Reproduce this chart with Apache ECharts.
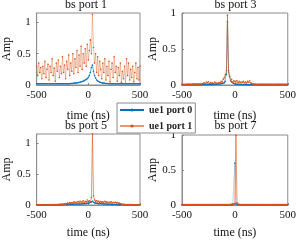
<!DOCTYPE html>
<html><head><meta charset="utf-8">
<script src="https://cdn.jsdelivr.net/npm/echarts@6/dist/echarts.min.js"></script>
<style>html,body{margin:0;padding:0;background:#fff}#c{width:299px;height:240px}</style>
</head><body><div id="c"></div>
<script>
const timeNs = [-500,-490,-480,-470,-460,-450,-440,-430,-420,-410,-400,-390,-380,-370,-360,-350,-340,-330,-320,-310,-300,-290,-280,-270,-260,-250,-240,-230,-220,-210,-200,-190,-180,-170,-160,-150,-140,-130,-120,-110,-100,-90,-80,-70,-60,-50,-40,-30,-20,-10,0,10,20,30,40,50,60,70,80,90,100,110,120,130,140,150,160,170,180,190,200,210,220,230,240,250,260,270,280,290,300,310,320,330,340,350,360,370,380,390,400,410,420,430,440,450,460,470,480,490,500];
const panelTitles = ['bs port 1','bs port 3','bs port 5','bs port 7'];
const seriesNames = ['ue1 port 0','ue1 port 1'];
const xTicks = [-500, 0, 500];
const yTicks = [0, 0.5, 1];
// bs port 1
const p1Ue0 = [0.02,0.02,0.02,0.02,0.02,0.02,0.02,0.02,0.02,0.02,0.02,0.02,0.02,0.02,0.02,0.02,0.02,0.02,0.02,0.02,0.02,0.02,0.02,0.02,0.02,0.02,0.02,0.02,0.02,0.02,0.02,0.02,0.02,0.025,0.025,0.025,0.03,0.03,0.03,0.035,0.035,0.04,0.045,0.05,0.055,0.06,0.07,0.08,0.09,0.1,0.12,0.15,0.2,0.28,0.32,0.22,0.15,0.11,0.08,0.065,0.055,0.045,0.04,0.035,0.03,0.03,0.028,0.025,0.025,0.022,0.02,0.02,0.02,0.02,0.02,0.02,0.02,0.02,0.02,0.02,0.02,0.02,0.02,0.02,0.02,0.02,0.02,0.02,0.02,0.02,0.02,0.02,0.02,0.02,0.02,0.02,0.02,0.02,0.02,0.02,0.02];
const p1Ue1 = [0.30,0.15,0.35,0.20,0.28,0.10,0.30,0.18,0.38,0.12,0.25,0.33,0.08,0.30,0.20,0.42,0.15,0.27,0.06,0.35,0.22,0.40,0.12,0.30,0.18,0.45,0.20,0.32,0.10,0.38,0.25,0.48,0.15,0.35,0.22,0.50,0.18,0.42,0.28,0.55,0.20,0.48,0.30,0.62,0.25,0.50,0.35,0.58,0.30,0.65,0.40,0.55,0.72,0.50,1.13,0.60,0.35,0.50,0.20,0.45,0.15,0.38,0.25,0.10,0.35,0.20,0.42,0.08,0.30,0.15,0.38,0.05,0.25,0.35,0.12,0.45,0.20,0.30,0.06,0.28,0.15,0.35,0.04,0.22,0.10,0.30,0.02,0.42,0.15,0.35,0.08,0.25,0.12,0.30,0.05,0.20,0.35,0.10,0.28,0.08,0.30];
// bs port 3
const p3Ue0 = [0.005,0.005,0.005,0.005,0.005,0.005,0.005,0.005,0.005,0.005,0.005,0.005,0.005,0.005,0.005,0.005,0.005,0.005,0.005,0.005,0.006,0.006,0.006,0.007,0.007,0.007,0.008,0.008,0.008,0.009,0.01,0.01,0.011,0.012,0.013,0.014,0.015,0.017,0.02,0.025,0.03,0.05,0.15,0.88,0.2,0.12,0.06,0.04,0.03,0.02,0.015,0.012,0.01,0.009,0.008,0.008,0.007,0.007,0.006,0.006,0.006,0.005,0.005,0.005,0.005,0.005,0.005,0.005,0.005,0.005,0.005,0.005,0.005,0.005,0.005,0.005,0.005,0.005,0.005,0.005,0.005,0.005,0.005,0.005,0.005,0.005,0.005,0.005,0.005,0.005,0.005,0.005,0.005,0.005,0.005,0.005,0.005,0.005,0.005,0.005,0.005];
const p3Ue1 = [0.01,0.01,0.005,0.01,0.008,0.01,0.012,0.008,0.01,0.01,0.012,0.01,0.015,0.01,0.012,0.015,0.01,0.018,0.012,0.02,0.025,0.03,0.02,0.04,0.03,0.045,0.02,0.035,0.025,0.03,0.02,0.04,0.03,0.02,0.025,0.035,0.03,0.05,0.04,0.08,0.10,0.14,0.20,0.97,0.18,0.12,0.06,0.08,0.04,0.06,0.05,0.04,0.06,0.03,0.05,0.04,0.03,0.04,0.05,0.03,0.04,0.03,0.05,0.04,0.06,0.03,0.02,0.015,0.01,0.012,0.01,0.008,0.01,0.01,0.008,0.01,0.009,0.01,0.008,0.01,0.01,0.008,0.009,0.01,0.008,0.01,0.009,0.008,0.01,0.008,0.009,0.01,0.008,0.01,0.008,0.009,0.01,0.008,0.01,0.009,0.01];
// bs port 5
const p5Ue0 = [0.003,0.003,0.003,0.003,0.003,0.003,0.003,0.003,0.003,0.003,0.003,0.003,0.003,0.003,0.003,0.003,0.003,0.003,0.003,0.003,0.004,0.004,0.005,0.005,0.006,0.006,0.007,0.008,0.009,0.01,0.01,0.012,0.01,0.013,0.011,0.014,0.012,0.015,0.013,0.016,0.015,0.018,0.016,0.02,0.018,0.02,0.022,0.025,0.02,0.028,0.03,0.035,0.04,0.05,0.06,0.045,0.035,0.03,0.028,0.025,0.022,0.02,0.025,0.02,0.018,0.02,0.016,0.015,0.014,0.013,0.012,0.011,0.01,0.01,0.009,0.008,0.008,0.007,0.006,0.006,0.005,0.005,0.004,0.004,0.004,0.003,0.003,0.003,0.003,0.003,0.003,0.003,0.003,0.003,0.003,0.003,0.003,0.003,0.003,0.003,0.003];
const p5Ue1 = [0.005,0.005,0.005,0.006,0.005,0.005,0.006,0.005,0.005,0.006,0.005,0.006,0.005,0.006,0.005,0.006,0.007,0.006,0.008,0.007,0.008,0.009,0.01,0.012,0.01,0.015,0.012,0.02,0.015,0.025,0.03,0.02,0.04,0.025,0.035,0.03,0.05,0.035,0.045,0.03,0.055,0.04,0.06,0.035,0.05,0.07,0.045,0.06,0.05,0.08,0.06,0.07,0.05,0.12,1.15,0.15,0.08,0.06,0.07,0.05,0.06,0.04,0.055,0.045,0.05,0.035,0.06,0.04,0.05,0.03,0.045,0.035,0.05,0.03,0.04,0.035,0.045,0.03,0.04,0.025,0.03,0.02,0.015,0.012,0.01,0.01,0.008,0.008,0.007,0.007,0.006,0.006,0.006,0.005,0.005,0.005,0.005,0.005,0.005,0.005,0.005];
// bs port 7
const p7Ue0 = [0.002,0.002,0.002,0.002,0.002,0.002,0.002,0.002,0.002,0.002,0.002,0.002,0.002,0.002,0.002,0.002,0.002,0.002,0.002,0.002,0.002,0.002,0.002,0.002,0.002,0.002,0.002,0.002,0.002,0.002,0.002,0.002,0.002,0.002,0.002,0.002,0.002,0.002,0.002,0.002,0.002,0.002,0.002,0.002,0.003,0.003,0.003,0.004,0.005,0.01,0.6,0.02,0.005,0.004,0.003,0.003,0.003,0.002,0.002,0.002,0.002,0.002,0.002,0.002,0.002,0.002,0.002,0.002,0.002,0.002,0.002,0.002,0.002,0.002,0.002,0.002,0.002,0.002,0.002,0.002,0.002,0.002,0.002,0.002,0.002,0.002,0.002,0.002,0.002,0.002,0.002,0.002,0.002,0.002,0.002,0.002,0.002,0.002,0.002,0.002,0.002];
const p7Ue1 = [0.005,0.006,0.005,0.005,0.006,0.005,0.005,0.006,0.005,0.005,0.006,0.005,0.005,0.006,0.005,0.005,0.006,0.005,0.005,0.006,0.005,0.005,0.006,0.005,0.005,0.006,0.005,0.005,0.006,0.005,0.005,0.006,0.005,0.005,0.006,0.005,0.005,0.006,0.005,0.006,0.006,0.007,0.006,0.007,0.008,0.008,0.009,0.01,0.012,0.015,0.02,1.0,0.03,0.015,0.01,0.008,0.007,0.006,0.006,0.005,0.006,0.005,0.005,0.006,0.005,0.005,0.006,0.005,0.005,0.006,0.005,0.005,0.006,0.005,0.005,0.006,0.005,0.005,0.006,0.005,0.005,0.006,0.005,0.005,0.006,0.005,0.005,0.006,0.005,0.005,0.006,0.005,0.005,0.006,0.005,0.005,0.006,0.005,0.005,0.006,0.005];

const panels = [[p1Ue0,p1Ue1,1.15],[p3Ue0,p3Ue1,1],[p5Ue0,p5Ue1,1.15],[p7Ue0,p7Ue1,1]];
const grids = [
  {left:32,top:13,width:108,height:72},
  {left:182,top:13,width:107,height:72},
  {left:32,top:134,width:108,height:73},
  {left:182,top:135,width:107,height:72}
];
const FONT = '"Liberation Serif", "DejaVu Serif", serif';
const BLUE = '#0072BD', ORANGE = '#D95319', AX = '#8c8c8c';
const titleTops = [-1, -1, 120, 120];

const option = {
  animation:false,
  backgroundColor:'#fff',
  title: panelTitles.map((t,i)=>({
    text:t, left:grids[i].left+grids[i].width/2, top:titleTops[i], textAlign:'center', padding:0,
    textStyle:{fontFamily:FONT,fontSize:12,fontWeight:'normal',color:'#111'}
  })),
  grid: grids.map(g=>Object.assign({show:true,borderColor:AX,borderWidth:1,backgroundColor:'#fff'},g)),
  xAxis: grids.map((g,i)=>({
    gridIndex:i,type:'value',min:xTicks[0],max:xTicks[2],interval:500,
    name:'time (ns)',nameLocation:'middle',nameGap:i<2?25:22,
    nameTextStyle:{fontFamily:FONT,fontSize:12,color:'#111'},
    axisLine:{show:true,onZero:false,lineStyle:{color:AX,width:1}},
    axisTick:{show:true,inside:true,length:2,lineStyle:{color:AX}},
    axisLabel:{fontFamily:FONT,fontSize:11,color:'#111',margin:5},
    splitLine:{show:false}
  })),
  yAxis: grids.map((g,i)=>({
    gridIndex:i,type:'value',min:yTicks[0],max:panels[i][2],interval:0.5,
    name:'Amp',nameLocation:'middle',nameGap:22,
    nameTextStyle:{fontFamily:FONT,fontSize:12,color:'#111'},
    axisLine:{show:true,onZero:false,lineStyle:{color:AX,width:1}},
    axisTick:{show:true,inside:true,length:2,lineStyle:{color:AX}},
    axisLabel:{fontFamily:FONT,fontSize:11,color:'#111',margin:6,showMaxLabel:panels[i][2]===1,
      formatter:v=>(yTicks.includes(v)?String(v):'')},
    splitLine:{show:false}
  })),
  legend:{
    left:117, top:103, orient:'vertical', itemWidth:24, itemHeight:4, itemGap:6,
    padding:[2,3,2,2], backgroundColor:'#fff', borderColor:AX, borderWidth:1, z:10,
    textStyle:{fontFamily:FONT,fontSize:10,fontWeight:'bold',color:'#222'},
    data:seriesNames
  },
  series: []
};
panels.forEach((p,i)=>{
  [0,1].forEach(k=>{
    const c = k===0?BLUE:ORANGE;
    option.series.push({
      name:seriesNames[k], type:'line', xAxisIndex:i, yAxisIndex:i,
      data: timeNs.map((t,j)=>[t,p[k][j]]),
      symbol:'circle', symbolSize:1.6, showSymbol:true,
      color:c,
      lineStyle:{width:0.6, color:c, opacity:(k===1&&i===0)?0.6:(k===0&&i===3?0.5:1)},
      itemStyle:{color:c},
      z: k===0?2:3
    });
  });
});
const chart = echarts.init(document.getElementById('c'), null, {renderer:'canvas'});
chart.setOption(option);
</script></body></html>
